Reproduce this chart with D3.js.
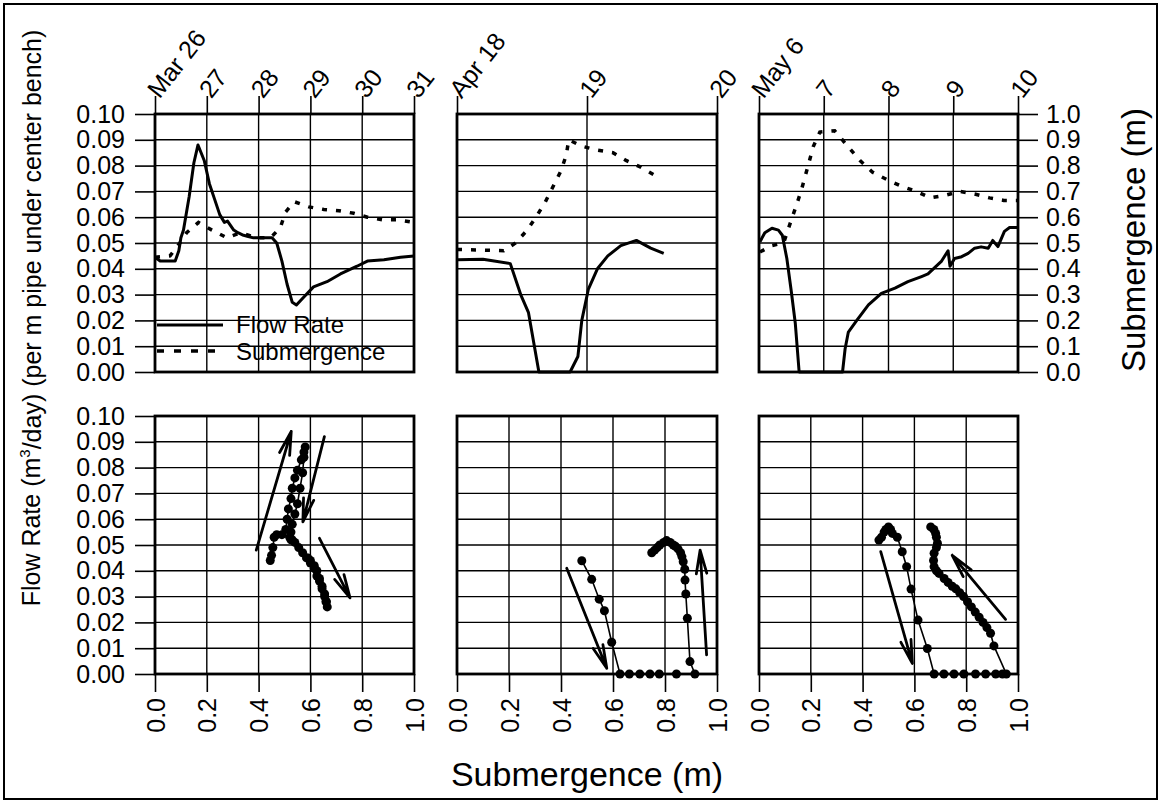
<!DOCTYPE html>
<html lang="en">
<head>
<meta charset="utf-8">
<title>Flow rate and submergence</title>
<script src="https://cdn.jsdelivr.net/npm/d3@7"></script>
<style>
body { margin: 0; background: #fff; }
svg text { font-family: "Liberation Sans", Arial, sans-serif; fill: #000; }
</style>
</head>
<body>
<script>
// date tick labels for the three time windows (one tick per day)
var marDates = ["Mar 26", "27", "28", "29", "30", "31"];
var aprDates = ["Apr 18", "19", "20"];
var mayDates = ["May 6", "7", "8", "9", "10"];

// top row: [days since first date, value]
var marFlow = [[0,0.0445],[0.1,0.043],[0.39,0.043],[0.46,0.047],[0.5,0.052],[0.55,0.055],[0.66,0.068],[0.75,0.081],[0.83,0.088],[0.95,0.082],[1.05,0.073],[1.15,0.067],[1.25,0.061],[1.34,0.058],[1.4,0.0585],[1.52,0.055],[1.6,0.054],[1.71,0.053],[1.8,0.0525],[1.9,0.052],[2.26,0.052],[2.35,0.050],[2.45,0.043],[2.55,0.034],[2.65,0.027],[2.73,0.026],[2.87,0.029],[3.06,0.033],[3.32,0.035],[3.58,0.038],[3.9,0.041],[4.1,0.043],[4.42,0.0435],[4.74,0.0445],[5,0.045]];
var marSub = [[0,0.445],[0.29,0.45],[0.48,0.50],[0.61,0.54],[0.84,0.58],[1.1,0.55],[1.39,0.52],[1.65,0.54],[1.97,0.52],[2.23,0.52],[2.42,0.56],[2.52,0.62],[2.69,0.66],[2.97,0.64],[3.26,0.63],[3.55,0.625],[3.84,0.615],[4.1,0.60],[4.39,0.59],[4.68,0.59],[5,0.58]];

var aprFlow = [[0,0.0435],[0.2,0.0437],[0.41,0.042],[0.49,0.030],[0.55,0.023],[0.63,0],[0.87,0],[0.93,0.006],[0.96,0.020],[1.01,0.032],[1.08,0.040],[1.16,0.045],[1.26,0.049],[1.38,0.051],[1.49,0.048],[1.59,0.046]];
var aprSub = [[0,0.475],[0.36,0.47],[0.45,0.50],[0.54,0.55],[0.62,0.61],[0.68,0.66],[0.75,0.73],[0.8,0.78],[0.84,0.84],[0.86,0.90],[0.96,0.875],[1.08,0.86],[1.2,0.85],[1.3,0.82],[1.41,0.795],[1.53,0.76]];

var mayFlow = [[0.015,0.0505],[0.09,0.054],[0.2,0.0557],[0.3,0.055],[0.36,0.053],[0.43,0.044],[0.5,0.031],[0.56,0.019],[0.62,0],[1.29,0],[1.33,0.009],[1.38,0.0155],[1.51,0.020],[1.69,0.026],[1.89,0.0305],[2.1,0.0325],[2.3,0.035],[2.51,0.037],[2.61,0.038],[2.82,0.043],[2.92,0.047],[2.95,0.041],[3.02,0.044],[3.13,0.0447],[3.23,0.046],[3.33,0.048],[3.43,0.0485],[3.54,0.048],[3.61,0.051],[3.69,0.0486],[3.79,0.0545],[3.87,0.056],[4,0.056]];
var maySub = [[0.015,0.465],[0.2,0.49],[0.38,0.50],[0.5,0.59],[0.59,0.655],[0.66,0.71],[0.72,0.765],[0.78,0.82],[0.84,0.875],[0.94,0.93],[1.17,0.935],[1.37,0.875],[1.56,0.82],[1.75,0.775],[1.98,0.745],[2.2,0.72],[2.43,0.70],[2.65,0.675],[2.88,0.685],[3.1,0.70],[3.33,0.69],[3.56,0.675],[3.78,0.665],[4,0.665]];

// bottom row: [submergence, flow rate]
var marScatter = [[0.445,0.044],[0.45,0.046],[0.455,0.049],[0.46,0.053],[0.47,0.054],[0.49,0.054],[0.505,0.056],[0.51,0.060],[0.515,0.064],[0.525,0.068],[0.53,0.072],[0.54,0.076],[0.55,0.079],[0.565,0.083],[0.575,0.086],[0.58,0.088],[0.575,0.084],[0.57,0.078],[0.56,0.072],[0.55,0.066],[0.54,0.062],[0.53,0.058],[0.525,0.055],[0.52,0.053],[0.525,0.052],[0.53,0.052],[0.54,0.051],[0.555,0.049],[0.57,0.047],[0.585,0.045],[0.6,0.043],[0.615,0.041],[0.625,0.038],[0.635,0.036],[0.645,0.033],[0.655,0.030],[0.66,0.028],[0.665,0.026],[0.662,0.028],[0.655,0.031],[0.645,0.034],[0.635,0.037],[0.625,0.040],[0.615,0.042],[0.6,0.044],[0.59,0.045]];
var aprScatter = [[0.48,0.0439],[0.518,0.0367],[0.547,0.029],[0.567,0.0245],[0.595,0.0123],[0.627,0],[0.663,0],[0.703,0],[0.742,0],[0.778,0],[0.844,0],[0.915,0],[0.896,0.0048],[0.886,0.0216],[0.88,0.031],[0.877,0.0364],[0.876,0.0406],[0.87,0.0435],[0.865,0.0455],[0.86,0.047],[0.85,0.0485],[0.84,0.0495],[0.832,0.050],[0.82,0.051],[0.806,0.0517],[0.795,0.051],[0.78,0.050],[0.77,0.049],[0.76,0.048],[0.749,0.047]];
var mayScatter = [[0.463,0.0519],[0.473,0.053],[0.483,0.055],[0.49,0.056],[0.50,0.057],[0.508,0.056],[0.515,0.0545],[0.534,0.053],[0.553,0.0474],[0.570,0.0416],[0.587,0.0329],[0.614,0.0209],[0.65,0.0099],[0.676,0],[0.714,0],[0.753,0],[0.791,0],[0.836,0],[0.875,0],[0.914,0],[0.94,0],[0.955,0],[0.907,0.0109],[0.894,0.0158],[0.88,0.018],[0.865,0.020],[0.85,0.022],[0.835,0.024],[0.82,0.026],[0.805,0.028],[0.79,0.030],[0.775,0.0315],[0.76,0.033],[0.746,0.034],[0.73,0.0355],[0.715,0.037],[0.695,0.039],[0.685,0.040],[0.676,0.0416],[0.674,0.044],[0.676,0.0468],[0.685,0.049],[0.689,0.0507],[0.685,0.053],[0.682,0.0545],[0.675,0.056],[0.663,0.057]];

// direction arrows: [sub0, flow0, sub1, flow1], head at the second point
var marArrows = [[0.391,0.048,0.526,0.094],[0.654,0.092,0.571,0.059],[0.635,0.0526,0.753,0.0295]];
var aprArrows = [[0.422,0.041,0.576,0.0022],[0.96,0.0074,0.935,0.048]];
var mayArrows = [[0.47,0.0474,0.592,0.0041],[0.952,0.0212,0.746,0.046]];

var flowTicks = d3.range(0, 0.1001, 0.01);
var subTicks = d3.range(0, 1.0001, 0.1);
var subXTicks = [0, 0.2, 0.4, 0.6, 0.8, 1.0];

var W = 1161, H = 804;
var topY0 = 114, topY1 = 372, botY0 = 416, botY1 = 674;

var panels = [
  {x0: 155, x1: 414, dates: marDates, flow: marFlow, sub: marSub, scatter: marScatter, arrows: marArrows},
  {x0: 457, x1: 717, dates: aprDates, flow: aprFlow, sub: aprSub, scatter: aprScatter, arrows: aprArrows},
  {x0: 759, x1: 1018, dates: mayDates, flow: mayFlow, sub: maySub, scatter: mayScatter, arrows: mayArrows}
];

var svg = d3.select("body").append("svg")
    .attr("width", W)
    .attr("height", H);

// outer frame
svg.append("rect")
    .attr("x", 4).attr("y", 4)
    .attr("width", 1153).attr("height", 795)
    .attr("fill", "none").attr("stroke", "#000").attr("stroke-width", 2);

var yFlowTop = d3.scaleLinear().domain([0, 0.1]).range([topY1, topY0]);
var ySubTop = d3.scaleLinear().domain([0, 1]).range([topY1, topY0]);
var yFlowBot = d3.scaleLinear().domain([0, 0.1]).range([botY1, botY0]);

function styleAxis(g) {
  g.select(".domain").remove();
  g.selectAll(".tick line").attr("stroke", "#000").attr("stroke-width", 1.6);
  g.selectAll(".tick text").attr("font-size", 25).attr("fill", "#000")
    .attr("font-family", '"Liberation Sans", Arial, sans-serif');
}

function arrow(g, x, y, a) {
  var x0 = x(a[0]), y0 = y(a[1]), x1 = x(a[2]), y1 = y(a[3]);
  var ang = Math.atan2(y1 - y0, x1 - x0);
  var len = 24, spread = 0.22;
  var p = "M" + x0 + "," + y0 + "L" + x1 + "," + y1;
  [-spread, spread].forEach(function(s) {
    p += "M" + x1 + "," + y1 + "L" + (x1 - len * Math.cos(ang + s)) + "," + (y1 - len * Math.sin(ang + s));
  });
  g.append("path").attr("d", p)
    .attr("fill", "none").attr("stroke", "#000")
    .attr("stroke-width", 2.8).attr("stroke-linecap", "round");
}

panels.forEach(function(p, i) {
  // ---------- top: time series ----------
  var x = d3.scaleLinear().domain([0, p.dates.length - 1]).range([p.x0, p.x1]);
  var gt = svg.append("g");

  gt.selectAll(".hgrid").data(flowTicks).enter().append("line")
    .attr("x1", p.x0).attr("x2", p.x1)
    .attr("y1", function(d) { return yFlowTop(d); })
    .attr("y2", function(d) { return yFlowTop(d); })
    .attr("stroke", "#000").attr("stroke-width", 1.4);
  gt.selectAll(".vgrid").data(d3.range(p.dates.length)).enter().append("line")
    .attr("x1", function(d) { return x(d); }).attr("x2", function(d) { return x(d); })
    .attr("y1", topY0).attr("y2", topY1)
    .attr("stroke", "#000").attr("stroke-width", 1.4);

  var ta = gt.append("g").attr("transform", "translate(0," + topY0 + ")")
    .call(d3.axisTop(x).tickValues(d3.range(p.dates.length)).tickSize(18)
      .tickFormat(function(d) { return p.dates[d]; }));
  styleAxis(ta);
  ta.selectAll(".tick text")
    .attr("x", 0).attr("y", 0).attr("dy", "0.3em")
    .attr("text-anchor", "start")
    .attr("transform", "translate(-2,-19) rotate(-52)");

  if (i === 0) {
    var la = gt.append("g").attr("transform", "translate(" + p.x0 + ",0)")
      .call(d3.axisLeft(yFlowTop).tickValues(flowTicks).tickSize(20).tickPadding(10)
        .tickFormat(d3.format(".2f")));
    styleAxis(la);
  }
  if (i === 2) {
    var ra = gt.append("g").attr("transform", "translate(" + p.x1 + ",0)")
      .call(d3.axisRight(ySubTop).tickValues(subTicks).tickSize(20).tickPadding(8)
        .tickFormat(d3.format(".1f")));
    styleAxis(ra);
  }

  gt.append("path").datum(p.sub)
    .attr("d", d3.line().x(function(d) { return x(d[0]); }).y(function(d) { return ySubTop(d[1]); }))
    .attr("fill", "none").attr("stroke", "#000").attr("stroke-width", 3.5)
    .attr("stroke-dasharray", "5,9");
  gt.append("path").datum(p.flow)
    .attr("d", d3.line().x(function(d) { return x(d[0]); }).y(function(d) { return yFlowTop(d[1]); }))
    .attr("fill", "none").attr("stroke", "#000").attr("stroke-width", 3)
    .attr("stroke-linejoin", "round");

  gt.append("rect")
    .attr("x", p.x0).attr("y", topY0)
    .attr("width", p.x1 - p.x0).attr("height", topY1 - topY0)
    .attr("fill", "none").attr("stroke", "#000").attr("stroke-width", 2.8);

  // ---------- bottom: flow vs submergence ----------
  var xs = d3.scaleLinear().domain([0, 1]).range([p.x0, p.x1]);
  var gb = svg.append("g");

  gb.selectAll(".hgrid").data(flowTicks).enter().append("line")
    .attr("x1", p.x0).attr("x2", p.x1)
    .attr("y1", function(d) { return yFlowBot(d); })
    .attr("y2", function(d) { return yFlowBot(d); })
    .attr("stroke", "#000").attr("stroke-width", 1.4);
  gb.selectAll(".vgrid").data(subXTicks).enter().append("line")
    .attr("x1", function(d) { return xs(d); }).attr("x2", function(d) { return xs(d); })
    .attr("y1", botY0).attr("y2", botY1)
    .attr("stroke", "#000").attr("stroke-width", 1.4);

  var ba = gb.append("g").attr("transform", "translate(0," + botY1 + ")")
    .call(d3.axisBottom(xs).tickValues(subXTicks).tickSize(18).tickFormat(d3.format(".1f")));
  styleAxis(ba);
  ba.selectAll(".tick text")
    .attr("x", 0).attr("y", 0).attr("dy", "0.36em")
    .attr("text-anchor", "end")
    .attr("transform", "translate(0,24) rotate(-90)");

  if (i === 0) {
    var lb = gb.append("g").attr("transform", "translate(" + p.x0 + ",0)")
      .call(d3.axisLeft(yFlowBot).tickValues(flowTicks).tickSize(20).tickPadding(10)
        .tickFormat(d3.format(".2f")));
    styleAxis(lb);
  }

  gb.append("path").datum(p.scatter)
    .attr("d", d3.line().x(function(d) { return xs(d[0]); }).y(function(d) { return yFlowBot(d[1]); }))
    .attr("fill", "none").attr("stroke", "#000").attr("stroke-width", 1.6);
  gb.selectAll("circle").data(p.scatter).enter().append("circle")
    .attr("cx", function(d) { return xs(d[0]); })
    .attr("cy", function(d) { return yFlowBot(d[1]); })
    .attr("r", 4.5).attr("fill", "#000");

  p.arrows.forEach(function(a) { arrow(gb, xs, yFlowBot, a); });

  gb.append("rect")
    .attr("x", p.x0).attr("y", botY0)
    .attr("width", p.x1 - p.x0).attr("height", botY1 - botY0)
    .attr("fill", "none").attr("stroke", "#000").attr("stroke-width", 2.8);
});

// legend in the first top panel
var lg = svg.append("g");
lg.append("line").attr("x1", 157).attr("x2", 223).attr("y1", 325).attr("y2", 325)
  .attr("stroke", "#000").attr("stroke-width", 3);
lg.append("text").attr("x", 236).attr("y", 333).attr("font-size", 24).text("Flow Rate");
lg.append("line").attr("x1", 157).attr("x2", 223).attr("y1", 351).attr("y2", 351)
  .attr("stroke", "#000").attr("stroke-width", 3.5).attr("stroke-dasharray", "7,10");
lg.append("text").attr("x", 236).attr("y", 360).attr("font-size", 24).text("Submergence");

// axis titles
var lt = svg.append("text")
  .attr("transform", "translate(40,318) rotate(-90)")
  .attr("text-anchor", "middle").attr("font-size", 25);
lt.append("tspan").text("Flow Rate (m");
lt.append("tspan").attr("font-size", 15).attr("dy", "-0.7em").text("3");
lt.append("tspan").attr("dy", "0.45em").text("/day) (per m pipe under center bench)");

svg.append("text")
  .attr("transform", "translate(1145,240) rotate(-90)")
  .attr("text-anchor", "middle").attr("font-size", 33)
  .text("Submergence (m)");

svg.append("text")
  .attr("x", 587).attr("y", 786)
  .attr("text-anchor", "middle").attr("font-size", 34)
  .text("Submergence (m)");
</script>
</body>
</html>
